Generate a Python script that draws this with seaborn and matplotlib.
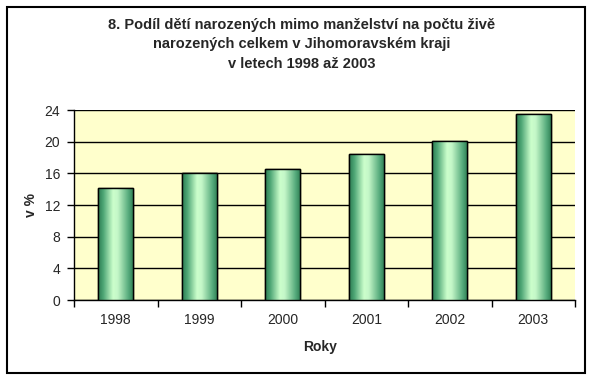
import numpy as np
import pandas as pd
import matplotlib
matplotlib.use("Agg")
import matplotlib.pyplot as plt
import seaborn as sns
from matplotlib.colors import LinearSegmentedColormap
from matplotlib.patches import Rectangle

years = ["1998", "1999", "2000", "2001", "2002", "2003"]
values = [14.2, 16.0, 16.6, 18.4, 20.1, 23.5]
yticks = [0, 4, 8, 12, 16, 20, 24]
title = ("8. Podíl dětí narozených mimo manželství na počtu živě\n"
         "narozených celkem v Jihomoravském kraji\n"
         "v letech 1998 až 2003")
xlabel = "Roky"
ylabel = "v %"

sns.set_theme(style="white")
plt.rcParams['font.family'] = ['Liberation Sans', 'DejaVu Sans']

fig = plt.figure(figsize=(5.93, 3.79), dpi=100)
fig.patch.set_facecolor("white")
W, H = 593, 379
ax = fig.add_axes([74 / W, (H - 300) / H, (575 - 74) / W, (300 - 110) / H])
ax.set_facecolor("#FFFFCC")

df = pd.DataFrame({"year": years, "value": values})
sns.barplot(data=df, x="year", y="value", ax=ax, width=0.42,
            color="#339966", edgecolor="black", linewidth=1.0, zorder=3)

# gradient fill for each bar
cmap = LinearSegmentedColormap.from_list(
    "g", [(0.0, "#2B7A50"), (0.15, "#4FA776"), (0.42, "#CCFFCC"),
          (0.55, "#C4F7C8"), (0.85, "#56AB7C"), (1.0, "#2B7A50")])
grad = np.linspace(0, 1, 256).reshape(1, -1)
for p in list(ax.patches):
    x0, y0 = p.get_x(), p.get_y()
    w, h = p.get_width(), p.get_height()
    im = ax.imshow(grad, cmap=cmap, aspect="auto",
                   extent=[x0, x0 + w, y0, y0 + h], zorder=3.5,
                   interpolation="bicubic")
    im.set_clip_path(p)
    p.set_facecolor("none")
    ax.add_patch(Rectangle((x0, y0), w, h, fill=False, edgecolor="black",
                           linewidth=1.0, zorder=4))

ax.set_xlim(-0.5, len(years) - 0.5)
ax.set_ylim(0, 24)
ax.set_yticks(yticks)
ax.set_yticklabels([str(t) for t in yticks], fontsize=10)
ax.yaxis.grid(True, color="black", linewidth=1.0, zorder=1)
ax.set_axisbelow(True)

# x ticks between categories, labels at centers
ax.set_xticks(np.arange(-0.5, len(years), 1.0))
ax.set_xticklabels([])
ax.set_xticks(np.arange(len(years)), minor=True)
ax.set_xticklabels(years, minor=True, fontsize=10)
ax.tick_params(axis="x", which="major", direction="out", length=5,
               width=1, color="black", bottom=True)
ax.tick_params(axis="x", which="minor", length=0, pad=9, bottom=True)
ax.tick_params(axis="y", direction="out", length=5, width=1, color="black",
               left=True, pad=5)

for s in ["top", "right"]:
    ax.spines[s].set_visible(False)
for s in ["left", "bottom"]:
    ax.spines[s].set_color("black")
    ax.spines[s].set_linewidth(1.0)

ax.set_xlabel("")
ax.set_ylabel("")
fig.text(320 / W, 1 - 347 / H, xlabel, ha="center", va="center",
         fontsize=10, fontweight="bold")
fig.text(31 / W, 1 - 205 / H, ylabel, ha="center", va="center",
         rotation=90, fontsize=10, fontweight="bold")
fig.text(302 / W, 1 - 44 / H, title, ha="center", va="center",
         fontsize=10.5, fontweight="bold", linespacing=1.5)

# figure frame
fig.add_artist(Rectangle((6.5 / W, 1 - 372.5 / H), (585 - 6.5) / W,
                         (372.5 - 6.5) / H, transform=fig.transFigure,
                         fill=False, edgecolor="black", linewidth=1.5))

fig.savefig("out.png", dpi=100, facecolor="white")
